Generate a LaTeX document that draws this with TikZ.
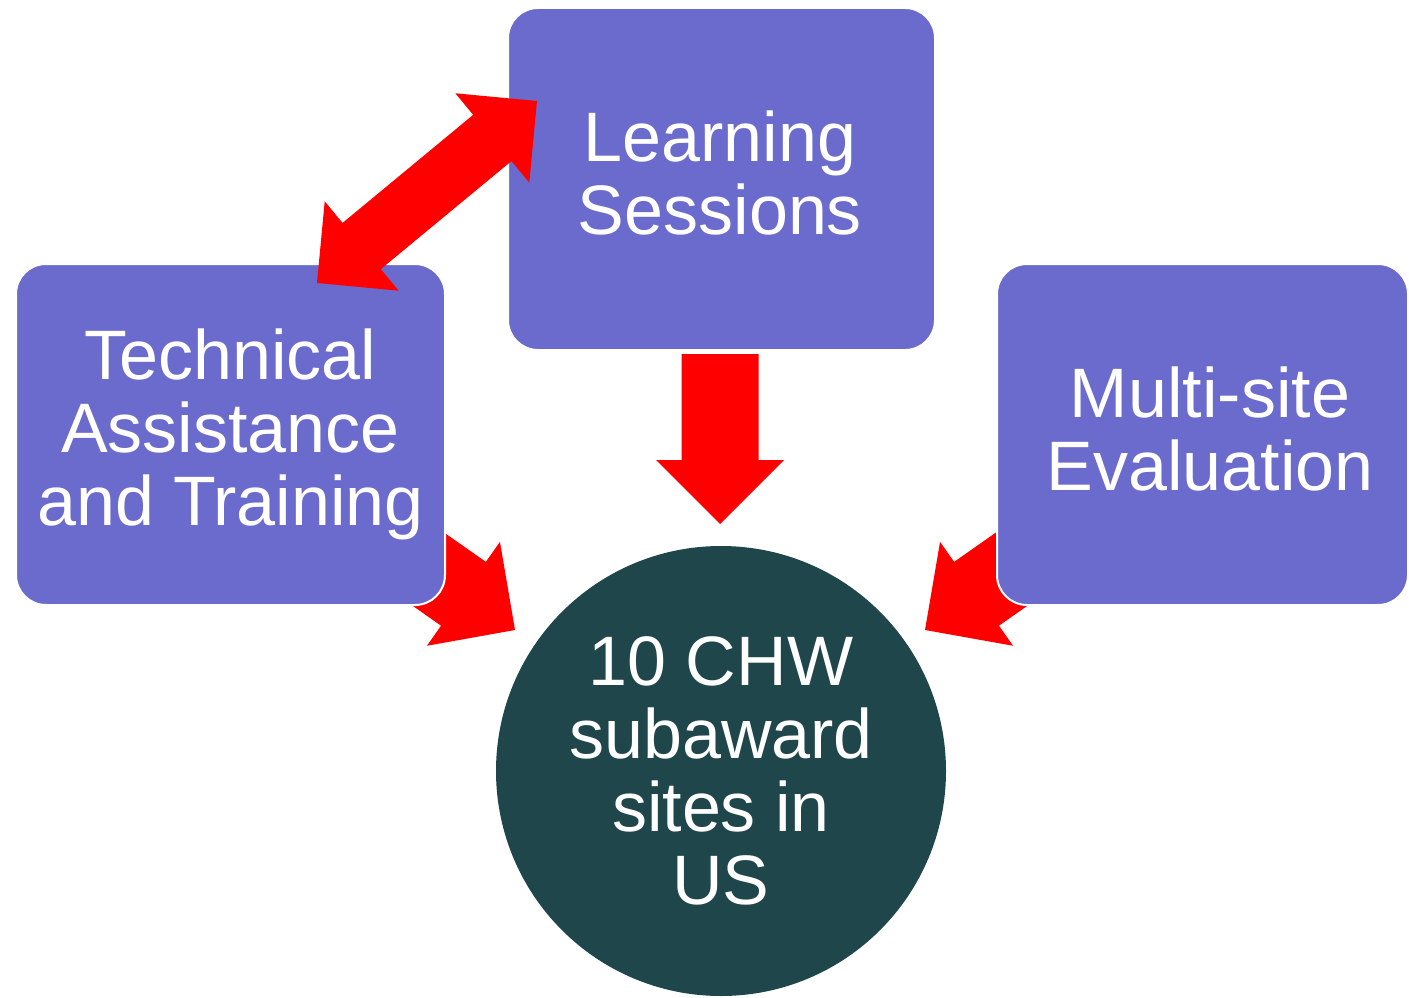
\documentclass[tikz,border=0pt]{standalone}
\usepackage{fontspec}
\setmainfont{Liberation Sans}
\usetikzlibrary{calc}

\definecolor{boxblue}{RGB}{107,107,205}
\definecolor{hubteal}{RGB}{31,70,74}
\definecolor{arrowred}{RGB}{255,0,0}

% single-headed block arrow: start, end, shaft half width, head length, head half width
\newcommand{\fatarrow}[5]{%
  \fill[arrowred]
    ($(#1)!#3!90:(#2)$) --
    ($($(#2)!#4!(#1)$)!#3!90:(#2)$) --
    ($($(#2)!#4!(#1)$)!#5!90:(#2)$) --
    (#2) --
    ($($(#2)!#4!(#1)$)!#5!-90:(#2)$) --
    ($($(#2)!#4!(#1)$)!#3!-90:(#2)$) --
    ($(#1)!#3!-90:(#2)$) -- cycle;}

% double-headed block arrow
\newcommand{\fatdoublearrow}[5]{%
  \fill[arrowred]
    (#1) --
    ($($(#1)!#4!(#2)$)!#5!90:(#2)$) --
    ($($(#1)!#4!(#2)$)!#3!90:(#2)$) --
    ($($(#2)!#4!(#1)$)!#3!90:(#2)$) --
    ($($(#2)!#4!(#1)$)!#5!90:(#2)$) --
    (#2) --
    ($($(#2)!#4!(#1)$)!#5!-90:(#2)$) --
    ($($(#2)!#4!(#1)$)!#3!-90:(#2)$) --
    ($($(#1)!#4!(#2)$)!#3!-90:(#2)$) --
    ($($(#1)!#4!(#2)$)!#5!-90:(#2)$) -- cycle;}

\tikzset{
  bigtext/.style={text=white, font=\fontsize{70}{73}\selectfont, align=center, inner sep=0pt},
  stagebox/.style={fill=boxblue, draw=white, line width=2pt,
    rounded corners=30pt, inner sep=0pt},
  hub/.style={bigtext, circle, fill=hubteal, minimum size=450pt},
}

\begin{document}
\begin{tikzpicture}[x=1pt,y=-1pt]
  \useasboundingbox[fill=white] (0,0) rectangle (1409,998);

  % arrow end points
  \coordinate (dblA) at (317,283);
  \coordinate (dblB) at (537,101);
  \coordinate (downS) at (720,354);
  \coordinate (downE) at (720,524);
  \coordinate (leftS) at (384,538);
  \coordinate (leftE) at (515,630);
  \coordinate (rightS) at (1056,538);
  \coordinate (rightE) at (925,630);

  % arrows into the hub lie beneath the boxes
  \fatarrow{downS}{downE}{38.5pt}{64pt}{64pt}
  \fatarrow{leftS}{leftE}{39pt}{63pt}{63.5pt}
  \fatarrow{rightS}{rightE}{39pt}{63pt}{63.5pt}

  % boxes
  \node[stagebox, minimum width=427pt, minimum height=342pt] (ls) at (721.5,179) {};
  \node[stagebox, minimum width=429pt, minimum height=341pt] (ta) at (230.5,434.5) {};
  \node[stagebox, minimum width=411pt, minimum height=341pt] (ms) at (1202.5,434.5) {};

  % box captions
  \node[bigtext] (lsText) at (720,173) {Learning\\Sessions};
  \node[bigtext] (taText) at (230.5,434.5) {Technical\\Assistance\\and Training};
  \node[bigtext] (msText) at (1210,428.5) {Multi-site\\Evaluation};

  \node[hub] (hubc) at (721,771) {10 CHW\\subaward\\sites in\\US};

  % two-way link sits on top of the boxes
  \fatdoublearrow{dblA}{dblB}{30pt}{58pt}{58pt}
\end{tikzpicture}
\end{document}
